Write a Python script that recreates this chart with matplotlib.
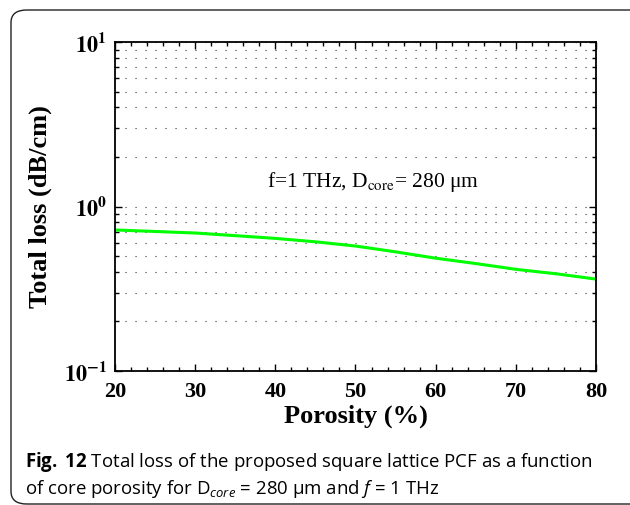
import numpy as np
import matplotlib
matplotlib.use("Agg")
import matplotlib.pyplot as plt
from matplotlib.patches import FancyBboxPatch
from matplotlib.ticker import MultipleLocator, LogLocator, NullFormatter

# data
porosity = [20, 25, 30, 35, 40, 45, 50, 55, 60, 65, 70, 75, 80]
total_loss = [0.72, 0.705, 0.69, 0.665, 0.64, 0.61, 0.575, 0.53, 0.485, 0.45, 0.415, 0.39, 0.362]

xticks = [20, 30, 40, 50, 60, 70, 80]
yticks = [0.1, 1, 10]
ytick_labels = [r'$\mathbf{10^{-1}}$', r'$\mathbf{10^{0}}$', r'$\mathbf{10^{1}}$']

plt.rcParams['mathtext.fontset'] = 'custom'
plt.rcParams['mathtext.rm'] = 'Open Sans'
plt.rcParams['mathtext.it'] = 'Open Sans:italic'
plt.rcParams['mathtext.bf'] = 'Open Sans:bold'

serif = 'Liberation Serif'

fig = plt.figure(figsize=(6.3, 5.05), dpi=100)
W, H = 630, 505

# rounded frame around the figure (bottom edge sits on the image border)
frame = FancyBboxPatch((11 / W, 1 / H), 640 / W, 494 / H,
                       boxstyle="round,pad=0,rounding_size=0.025",
                       transform=fig.transFigure, fill=False,
                       edgecolor='#222222', linewidth=1.0, clip_on=False)
fig.patches.append(frame)

ax = fig.add_axes([115 / W, 1 - 371 / H, (596 - 115) / W, (371 - 42) / H])
ax.plot(porosity, total_loss, color='#00ff00', linewidth=2.2)

ax.set_yscale('log')
ax.set_xlim(20, 80)
ax.set_ylim(0.1, 10)

ax.set_xticks(xticks)
ax.set_xticklabels([str(v) for v in xticks], fontfamily=serif, fontweight='bold', fontsize=16)
ax.xaxis.set_minor_locator(MultipleLocator(2))
ax.set_yticks(yticks)
ax.set_yticklabels(ytick_labels, fontsize=16)
for lab in ax.get_yticklabels():
    lab.set_math_fontfamily('stix')
ax.yaxis.set_minor_locator(LogLocator(base=10, subs=np.arange(2, 10)))
ax.yaxis.set_minor_formatter(NullFormatter())

ax.tick_params(which='both', direction='in', top=True, right=True, width=1.0, colors='black')
ax.tick_params(which='major', length=5, pad=8)
ax.tick_params(which='minor', length=3)
ax.tick_params(axis='y', which='major', pad=6)
for s in ax.spines.values():
    s.set_linewidth(1.3)

ax.grid(True, axis='y', which='both', linestyle=(0, (1, 8)), color='#333333', linewidth=0.8)

ax.set_xlabel('Porosity (%)', fontfamily=serif, fontweight='bold', fontsize=19, labelpad=2)
ax.set_ylabel('Total loss (dB/cm)', fontfamily=serif, fontweight='bold', fontsize=19, labelpad=8)

t = ax.text(38.96, 1.314, r'f=1 THz, D$_{\mathrm{core}}$= 280 μm', fontfamily=serif,
            fontsize=15.5, ha='left', va='baseline')
t.set_math_fontfamily('stix')

fig.text(25 / W, 1 - 467 / H,
         r'$\mathbf{Fig.}$ $\mathbf{12}$ Total loss of the proposed square lattice PCF as a function',
         fontfamily='Open Sans', fontsize=13.4, va='baseline', ha='left')
fig.text(25 / W, 1 - 494 / H,
         r'of core porosity for D$_{core}$ = 280 μm and $f$ = 1 THz',
         fontfamily='Open Sans', fontsize=13.4, va='baseline', ha='left')

fig.savefig('out.png', dpi=100)
